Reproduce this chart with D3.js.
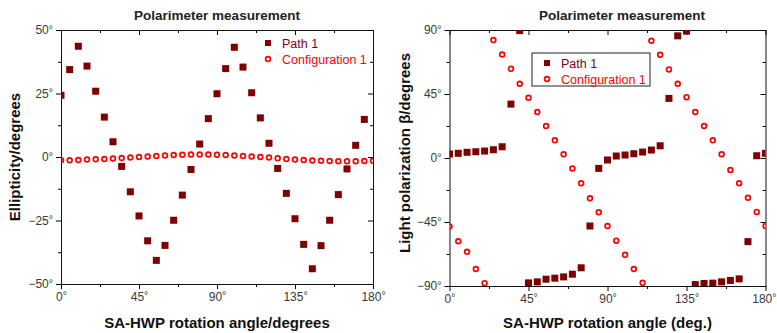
<!DOCTYPE html>
<html>
<head>
<meta charset="utf-8">
<script src="https://cdn.jsdelivr.net/npm/d3@7"></script>
<style>
  body { margin: 0; background: #fff; }
  svg { display: block; font-family: Arial, "Liberation Sans", sans-serif; }
  .tick text { fill: #3a3a3a; }
</style>
</head>
<body>
<script>
// rotation angle of the half wave plate, degrees
const angles = [0, 5, 10, 15, 20, 25, 30, 35, 40, 45, 50, 55, 60, 65, 70, 75, 80, 85, 90,
    95, 100, 105, 110, 115, 120, 125, 130, 135, 140, 145, 150, 155, 160, 165, 170, 175, 180];

// left panel: ellipticity (no Path 1 point at 180)
const ellipPath = [24.3, 34.4, 43.6, 35.8, 25.9, 15.7, 6.0, -3.7, -13.7, -23.2, -33.0, -40.7,
    -34.8, -24.9, -15.0, -4.9, 5.1, 15.1, 24.9, 34.8, 43.2, 35.4, 25.3, 15.4, 5.4, -4.5,
    -14.3, -24.3, -34.4, -44.0, -34.9, -24.9, -14.8, -4.7, 4.6, 14.8];
const ellipConfig = [-1.3, -1.3, -1.2, -1.0, -0.9, -0.8, -0.6, -0.4, -0.2, 0.0, 0.2, 0.4,
    0.6, 0.8, 0.9, 1.0, 1.0, 1.0, 0.9, 0.8, 0.6, 0.4, 0.2, 0.0, -0.2, -0.5, -0.8, -1.0,
    -1.2, -1.4, -1.5, -1.6, -1.7, -1.7, -1.7, -1.6, -1.5];

// right panel: polarization angle beta
const betaPath = [2.8, 3.3, 4.0, 4.4, 4.9, 5.8, 7.9, 37.9, 89.6, -87.8, -87.1, -85.2, -84.5,
    -83.6, -81.7, -77.2, -47.8, -7.3, -1.4, 1.4, 2.1, 3.0, 4.2, 5.6, 8.6, 41.9, 85.9, 89.2,
    -89.0, -88.2, -88.0, -87.1, -86.1, -85.0, -58.8, 1.6, 3.3];
const betaConfig = [-48.2, -58.5, -66.0, -78.0, -88.0, 82.9, 72.8, 62.7, 52.2, 42.4, 32.3,
    22.5, 12.4, 2.6, -7.3, -17.8, -28.3, -38.1, -47.8, -58.1, -68.1, -78.0, -87.8, 82.4,
    72.6, 62.3, 52.2, 42.8, 32.3, 22.5, 12.4, 2.6, -8.4, -17.8, -27.9, -37.9, -47.8];

const xTicks = [0, 45, 90, 135, 180];
const xMinor = [22.5, 67.5, 112.5, 157.5];
const seriesNames = ['Path 1', 'Configuration 1'];

const pathColor = '#7f0000',
    configColor = '#ff0000';

const W = 777, H = 333;

const svg = d3.select('body').append('svg')
    .attr('width', W)
    .attr('height', H);

const fmtNum = d => d < 0 ? '\u2212' + Math.abs(d) : String(d);

// tick label with a slightly smaller, raised degree sign
function degreeLabels(sel) {
    sel.selectAll('.tick text').each(function(d) {
        const t = d3.select(this).text(fmtNum(d)).style('font-size', '12px');
        t.append('tspan').attr('dy', -1.5).style('font-size', '10.5px').text('\u00b0');
        // keep a label that would run past the page edge inside it
        const b = this.getBoundingClientRect();
        if (b.right > W - 0.5) t.attr('dx', W - 0.5 - b.right);
    });
}

function drawPanel(p) {
    const x = d3.scaleLinear().domain([0, 180]).range([p.left, p.right]);
    const y = d3.scaleLinear().domain(p.yDomain).range([p.bottom, p.top]);

    const g = svg.append('g');

    g.append('clipPath').attr('id', p.id + 'clip')
        .append('rect')
        .attr('x', p.left).attr('y', p.top)
        .attr('width', p.right - p.left).attr('height', p.bottom - p.top);

    // frame: bottom/left axes with labels, top/right mirrored inward
    const axes = [
        { ax: d3.axisBottom(x).tickValues(xTicks), t: `translate(0,${p.bottom})`, minor: d3.axisBottom(x).tickValues(xMinor), horiz: true },
        { ax: d3.axisBottom(x).tickValues(xTicks), t: `translate(0,${p.top})`, minor: d3.axisBottom(x).tickValues(xMinor), horiz: true, inward: true },
        { ax: d3.axisLeft(y).tickValues(p.yTicks), t: `translate(${p.left},0)`, minor: d3.axisLeft(y).tickValues(p.yMinor) },
        { ax: d3.axisLeft(y).tickValues(p.yTicks), t: `translate(${p.right},0)`, minor: d3.axisLeft(y).tickValues(p.yMinor), inward: true }
    ];
    axes.forEach(a => {
        const ga = g.append('g').attr('transform', a.t)
            .call(a.ax.tickSize(5).tickSizeOuter(0).tickPadding(3));
        if (a.inward) {
            // mirrored sides: no labels, ticks point into the plot
            ga.selectAll('.tick text').remove();
            ga.selectAll('.tick line').attr(a.horiz ? 'y2' : 'x2', a.horiz ? 5 : -5);
        } else {
            ga.call(degreeLabels);
        }
        ga.select('.domain').attr('stroke', '#111');
        const gm = g.append('g').attr('transform', a.t)
            .call(a.minor.tickSize(3).tickFormat(''));
        gm.select('.domain').remove();
        if (a.inward) {
            gm.selectAll('.tick line').attr(a.horiz ? 'y2' : 'x2', a.horiz ? 3 : -3);
        }
    });

    const plot = g.append('g').attr('clip-path', `url(#${p.id}clip)`);

    plot.selectAll('rect.pt')
        .data(p.pathVals)
        .join('rect')
        .attr('class', 'pt')
        .attr('x', (d, i) => x(angles[i]) - 3.5)
        .attr('y', d => y(d) - 3.5)
        .attr('width', 7).attr('height', 7)
        .attr('fill', pathColor);

    plot.selectAll('circle.pt')
        .data(p.configVals)
        .join('circle')
        .attr('class', 'pt')
        .attr('cx', (d, i) => x(angles[i]))
        .attr('cy', d => y(d))
        .attr('r', 2.4)
        .attr('fill', 'none')
        .attr('stroke', configColor)
        .attr('stroke-width', 1.7);

    // legend
    const lg = g.append('g').attr('transform', `translate(${p.legend[0]},${p.legend[1]})`);
    if (p.legendBox) {
        lg.append('rect')
            .attr('x', -15).attr('y', -10)
            .attr('width', 118).attr('height', 33)
            .attr('fill', '#fff').attr('stroke', '#222').attr('stroke-width', 1);
    }
    lg.append('rect').attr('x', -3).attr('y', -3).attr('width', 6).attr('height', 6).attr('fill', pathColor);
    lg.append('circle').attr('cx', 0).attr('cy', 16).attr('r', 2.4)
        .attr('fill', 'none').attr('stroke', configColor).attr('stroke-width', 1.7);
    lg.selectAll('text')
        .data(seriesNames)
        .join('text')
        .attr('x', 14)
        .attr('y', (d, i) => i * 16 + 4.5)
        .style('font-size', '12.5px')
        .attr('fill', (d, i) => i ? configColor : '#800020')
        .text(d => d);

    // titles
    g.append('text')
        .attr('x', p.titleX).attr('y', 20)
        .attr('text-anchor', 'middle')
        .style('font-size', '13.5px').style('font-weight', 'bold')
        .attr('fill', '#222')
        .text('Polarimeter measurement');

    g.append('text')
        .attr('x', (p.left + p.right) / 2).attr('y', 328)
        .attr('text-anchor', 'middle')
        .style('font-size', '15px').style('font-weight', 'bold')
        .attr('fill', '#111')
        .text(p.xLabel);

    g.append('text')
        .attr('transform', `translate(${p.yLabelX},${p.yLabelY}) rotate(-90)`)
        .attr('text-anchor', 'middle')
        .style('font-size', '15px').style('font-weight', 'bold')
        .attr('fill', '#111')
        .text(p.yLabel);
}

drawPanel({
    id: 'ellip',
    left: 61, right: 373, top: 30, bottom: 284,
    yDomain: [-50, 50],
    yTicks: [-50, -25, 0, 25, 50],
    yMinor: [-37.5, -12.5, 12.5, 37.5],
    pathVals: ellipPath,
    configVals: ellipConfig,
    legend: [268, 43],
    legendBox: false,
    titleX: 217,
    xLabel: 'SA-HWP rotation angle/degrees',
    yLabel: 'Ellipticity/degrees',
    yLabelX: 20, yLabelY: 157
});

drawPanel({
    id: 'beta',
    left: 449.5, right: 765.5, top: 30, bottom: 286,
    yDomain: [-90, 90],
    yTicks: [-90, -45, 0, 45, 90],
    yMinor: [-67.5, -22.5, 22.5, 67.5],
    pathVals: betaPath,
    configVals: betaConfig,
    legend: [547, 63],
    legendBox: true,
    titleX: 622,
    xLabel: 'SA-HWP rotation angle (deg.)',
    yLabel: 'Light polarization \u03b2/degrees',
    yLabelX: 410, yLabelY: 153
});
</script>
</body>
</html>
